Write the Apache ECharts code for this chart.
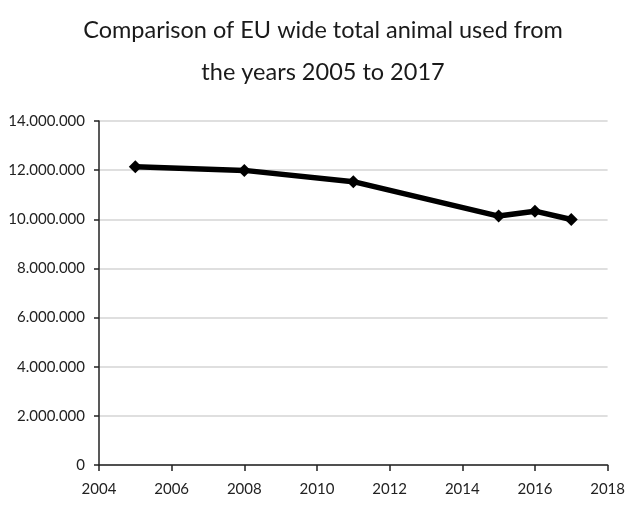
<!DOCTYPE html>
<html>
<head>
<meta charset="utf-8">
<script src="https://cdn.jsdelivr.net/npm/echarts@6/dist/echarts.min.js"></script>
<style>
  html, body { margin: 0; padding: 0; background: #fff; }
  #chart { width: 628px; height: 505px; }
</style>
</head>
<body>
<div id="chart"></div>
<script>
// Total animals used in the EU, by reporting year
const years = [2005, 2008, 2011, 2015, 2016, 2017];
const animalsUsed = [12140000, 11990000, 11530000, 10130000, 10330000, 9990000];
const titleLines = ['Comparison of EU wide total animal used from', 'the years 2005 to 2017'];

// Thousands separated with dots
function dotted(v) {
  return String(Math.round(v)).replace(/\B(?=(\d{3})+(?!\d))/g, '.');
}

const chart = echarts.init(document.getElementById('chart'), null, { renderer: 'canvas' });
chart.setOption({
  animation: false,
  backgroundColor: '#fff',
  title: {
    text: titleLines.join('\n'),
    left: 318,
    textAlign: 'center',
    top: 4,
    textStyle: {
      fontFamily: 'Lato',
      fontWeight: 'normal',
      fontSize: 23.5,
      lineHeight: 42,
      color: '#1a1a1a'
    }
  },
  grid: { left: 99, right: 19, top: 121, bottom: 40 },
  xAxis: {
    type: 'value',
    min: 2004,
    max: 2018,
    interval: 2,
    axisLine: { show: true, lineStyle: { color: '#222', width: 1.5 } },
    axisTick: { show: true, length: 6, lineStyle: { color: '#222', width: 1.5 } },
    splitLine: { show: false },
    axisLabel: {
      margin: 17,
      fontFamily: 'Lato',
      fontSize: 15,
      color: '#222',
      formatter: v => String(v)
    }
  },
  yAxis: {
    type: 'value',
    min: 0,
    max: 14000000,
    interval: 2000000,
    axisLine: { show: true, lineStyle: { color: '#222', width: 1.5 } },
    axisTick: { show: true, length: 5, lineStyle: { color: '#222', width: 1.5 } },
    splitLine: { show: true, lineStyle: { color: '#d4d4d4', width: 1.5 } },
    axisLabel: {
      margin: 14,
      fontFamily: 'Lato',
      fontSize: 15,
      color: '#222',
      formatter: v => dotted(v)
    }
  },
  series: [{
    type: 'line',
    data: years.map((y, i) => [y, animalsUsed[i]]),
    symbol: 'diamond',
    symbolSize: 13,
    lineStyle: { color: '#000', width: 5.5 },
    itemStyle: { color: '#000' },
    z: 5
  }]
});
</script>
</body>
</html>
